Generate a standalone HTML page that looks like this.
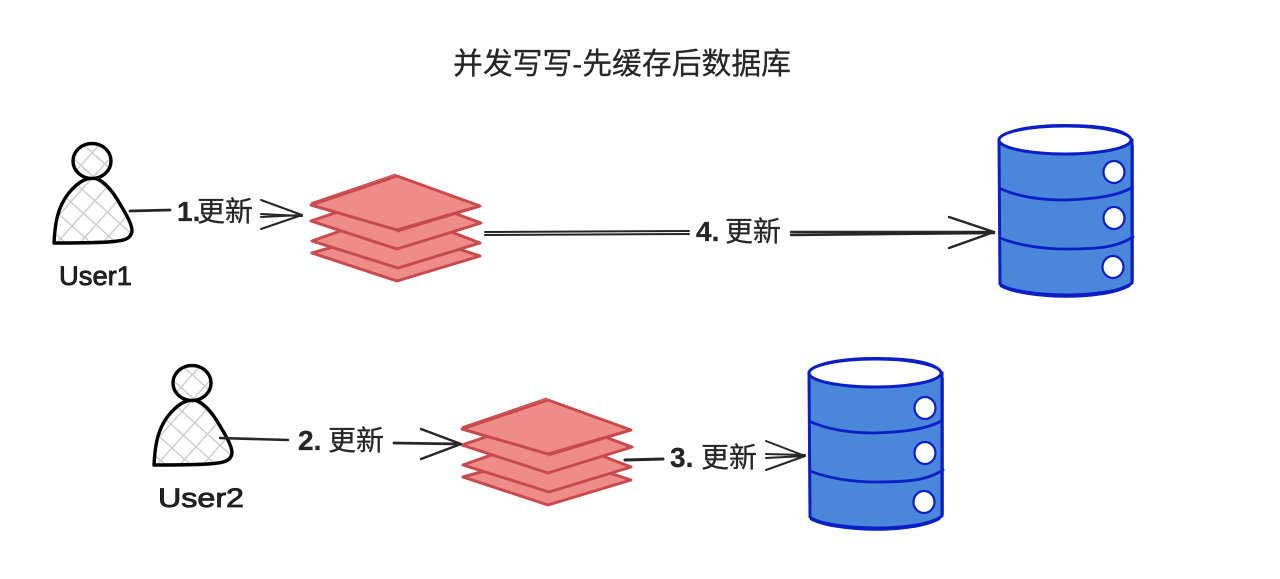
<!DOCTYPE html>
<html><head><meta charset="utf-8"><style>
html,body{margin:0;padding:0;background:#fff}
svg{display:block}
text{font-family:"Liberation Sans","Noto Sans CJK SC",sans-serif;fill:#262626}
</style></head><body>
<svg width="1280" height="579" viewBox="0 0 1280 579" xmlns="http://www.w3.org/2000/svg">
<defs>
<pattern id="h" width="17" height="17" patternUnits="userSpaceOnUse" patternTransform="rotate(42)">
<rect width="17" height="17" fill="#fff"/>
<path d="M0 0H17M0 0V17" stroke="#cfcfcf" stroke-width="3" fill="none"/>
</pattern>
<g id="person" stroke="#000" stroke-width="3.4" stroke-linecap="round" stroke-linejoin="round" fill="url(#h)">
<path d="M54 243C55 222 58 207 68 194C76 184 84 178 93 178C103 179 112 190 120 204C126 214 132 224 132 231C131 240 122 241 108 242C90 243 72 243 54 243Z"/>
<ellipse cx="92" cy="161" rx="19" ry="17.5"/>
</g>
<g id="stack" stroke="#c84a4c" stroke-width="3" stroke-linejoin="round" fill="#ee8c8a">
<path d="M312 253L397 229L480 256L397 281Z"/>
<path d="M312 241L397 211L480 243L398 268Z"/>
<path d="M311 221L397 192L481 223L397 249Z"/>
<path d="M311 205L397 176L480 206L397 230Z"/>
<path d="M311 203L396 174M397 232L479 207" fill="none" stroke-width="1.2"/>
</g>
<g id="dbbody" fill="none" stroke="#0b1fc4">
<path d="M999 140L1000 284C1008 291 1040 295 1066 295C1095 295 1122 291 1132 283L1132 140Z" fill="#4a86d9" stroke-width="3"/>
<ellipse cx="1065" cy="140" rx="66" ry="14" fill="#fff" stroke-width="3"/>
<path d="M1001 137C1010 128 1040 125 1065 125C1095 125 1122 128 1130 137" stroke-width="2"/>
<path d="M1133 145L1133 282" stroke-width="1.6"/>
<path d="M999 188C1020 198 1045 200 1065 200C1095 199 1118 196 1133 187" stroke-width="2.8"/>
<path d="M1000 238C1020 246 1045 249 1065 249C1095 249 1118 248 1134 236" stroke-width="2.8"/>
<path d="M1000 286C1012 293 1040 297 1066 297C1090 297 1115 294 1130 286" stroke-width="1.6"/>
</g>
<g id="hole"><ellipse rx="10.5" ry="11" fill="#fff" stroke="#0b1fc4" stroke-width="2.2"/></g>
</defs>

<text x="622" y="74" font-size="30" text-anchor="middle" textLength="338" lengthAdjust="spacingAndGlyphs" stroke="#262626" stroke-width=".25">并发写写-先缓存后数据库</text>

<use href="#person"/>
<use href="#person" transform="translate(100,222)"/>
<use href="#stack"/>
<use href="#stack" transform="translate(151,224)"/>
<use href="#dbbody"/>
<use href="#dbbody" transform="translate(-190,233)"/>
<use href="#hole" x="1114" y="172"/>
<use href="#hole" x="1114" y="218"/>
<use href="#hole" x="1113" y="267"/>
<use href="#hole" x="925" y="408"/>
<use href="#hole" x="925" y="453"/>
<use href="#hole" x="924" y="502"/>

<g fill="none" stroke="#262626" stroke-linecap="round" stroke-linejoin="round">
<path d="M130 211L170 210" stroke-width="2.8"/>
<path d="M261 200L302 215L261 229M261 214L302 216M261 217L302 215" stroke-width="2"/>
<path d="M485 232L689 231M485 235L689 234" stroke-width="2"/>
<path d="M791 232L994 232M791 235L994 233" stroke-width="2.4"/>
<path d="M949 217L994 232L949 248" stroke-width="2.4"/>
<path d="M220 438L288 440" stroke-width="2.6"/>
<path d="M394 443L460 444" stroke-width="2.8"/>
<path d="M421 429L461 444L421 459" stroke-width="2.4"/>
<path d="M625 460L663 459" stroke-width="3"/>
<path d="M766 441L805 456L766 470M766 454L805 455M766 458L805 456" stroke-width="2"/>
</g>

<g font-size="28" stroke="#262626" stroke-width=".3">
<text y="221"><tspan x="177" font-weight="bold">1.</tspan><tspan x="197">更新</tspan></text>
<text y="241"><tspan x="696" font-weight="bold">4.</tspan><tspan x="725">更新</tspan></text>
<text y="450"><tspan x="298" font-weight="bold">2.</tspan><tspan x="328">更新</tspan></text>
<text y="467"><tspan x="670" font-weight="bold">3.</tspan><tspan x="701">更新</tspan></text>
</g>
<g font-size="27" stroke="#111" stroke-width=".8">
<text x="59" y="285" textLength="73" lengthAdjust="spacingAndGlyphs">User1</text>
<text x="158" y="507" textLength="86" lengthAdjust="spacingAndGlyphs">User2</text>
</g>
</svg>
</body></html>
